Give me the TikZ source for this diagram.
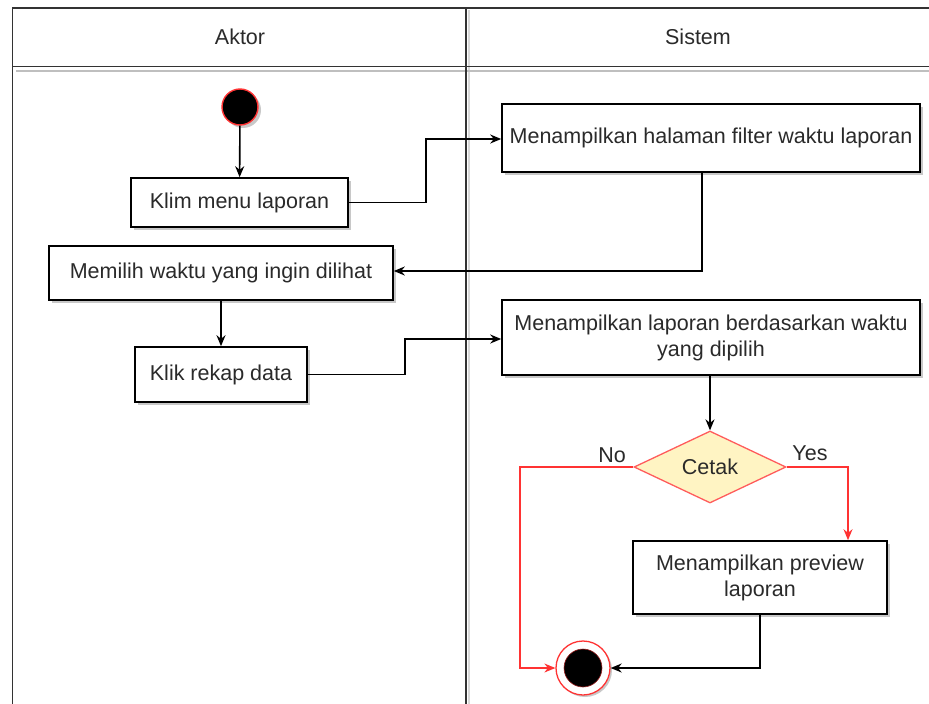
\documentclass[tikz,border=0pt]{standalone}
\usepackage{fontspec}
\setmainfont{Liberation Sans}
\usetikzlibrary{arrows.meta,shapes.geometric,shadows}
\definecolor{txt}{HTML}{2A2A2A}
\definecolor{flowred}{HTML}{FF3333}
\definecolor{decfill}{HTML}{FFF4C3}
\tikzset{
  lbl/.style={font=\fontsize{21.5}{26}\selectfont, text=txt},
  act/.style={lbl, draw=black, line width=1.6pt, fill=white, rectangle, inner sep=0pt,
    align=center, drop shadow={shadow xshift=3pt, shadow yshift=-3pt, fill=black!30, opacity=0.7}},
  flow/.style={draw=black, line width=1.6pt, -{Stealth[length=11pt,width=9pt]}},
  rflow/.style={draw=flowred, line width=1.3pt, -{Stealth[length=11pt,width=9pt]}},
  lane/.style={draw=black!80, line width=1.6pt},
}
\begin{document}
\begin{tikzpicture}[x=1pt,y=-1pt]
\useasboundingbox (0,0) rectangle (929,704);
% swimlanes
\fill[white] (0,0) rectangle (929,704);
\draw[black!15, line width=2pt] (469,10) -- (469,704);
\draw[black!25, line width=2pt] (16,71) -- (929,71);
\draw[lane] (929,8) -- (12.5,8) -- (12.5,704);
\draw[lane] (12.5,66.5) -- (929,66.5);
\draw[lane] (466,8) -- (466,704);
\node[lbl] (hA) at (240,37) {Aktor};
\node[lbl] (hS) at (698,37) {Sistem};

% start node
\node[circle, fill=black, draw=flowred, line width=1.4pt, minimum size=36pt, inner sep=0pt,
  drop shadow={shadow xshift=3pt, shadow yshift=-3pt, fill=black!30, opacity=0.7}] (start) at (240,107) {};

% actions
\node[act, minimum width=217pt, minimum height=49pt] (klim) at (239.5,202.5) {Klim menu laporan};
\node[act, minimum width=344pt, minimum height=54pt] (pilih) at (221,273) {Memilih waktu yang ingin dilihat};
\node[act, minimum width=172pt, minimum height=55pt] (klik) at (221,374.5) {Klik rekap data};
\node[act, minimum width=418pt, minimum height=68pt] (filter) at (711,138) {Menampilkan halaman filter waktu laporan};
\node[act, minimum width=418pt, minimum height=75pt] (lap) at (711,337.5) {Menampilkan laporan berdasarkan waktu\\yang dipilih};
\node[lbl, diamond, aspect=2.1, draw=flowred!80, line width=1.3pt, fill=decfill,
  minimum width=152pt, minimum height=72pt, inner sep=0pt] (cetak) at (710,467) {Cetak};
\node[act, minimum width=254pt, minimum height=73pt] (prev) at (760,577.5) {Menampilkan preview\\laporan};

% end node
\node[circle, draw=flowred, line width=1.3pt, fill=white, minimum size=54pt, inner sep=0pt,
  drop shadow={shadow xshift=2pt, shadow yshift=-2pt, fill=black!30, opacity=0.7}] (fin) at (583,668) {};
\node[circle, fill=black, draw=flowred!60!black, line width=0.6pt, minimum size=38pt, inner sep=0pt] (finin) at (fin) {};

% connectors
\draw[flow] (start) -- (klim);
\draw[flow] (klim.east) -- (426,202.5) -- (426,139) -- (filter.west |- 0,139);
\draw[flow] (filter.south -| 702,0) -- (702,271) -- (pilih.east |- 0,271);
\draw[flow] (pilih) -- (klik);
\draw[flow] (klik.east) -- (405,374.5) -- (405,339) -- (lap.west |- 0,339);
\draw[flow] (lap.south -| cetak) -- (cetak.north);
\draw[rflow] (cetak.east) -- (848,467) -- (prev.north -| 848,0);
\draw[rflow] (cetak.west) -- (520,467) -- (520,668) -- (fin.west);
\draw[flow] (prev.south -| 760,0) -- (760,668) -- (fin.east);

\node[lbl] (no) at (612,455) {No};
\node[lbl] (yes) at (810,453) {Yes};
\end{tikzpicture}
\end{document}
